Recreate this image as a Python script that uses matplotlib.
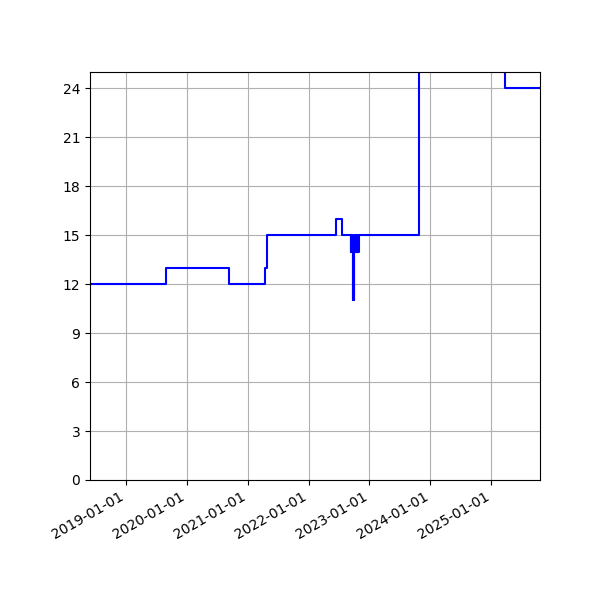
import matplotlib
matplotlib.use('Agg')
import matplotlib.pyplot as plt
import matplotlib.dates as mdates
import pandas as pd

# Step series: value holds from each date until the next one
dates = ['2018-05-30', '2019-08-31', '2020-09-10', '2021-04-16', '2021-04-24',
         '2022-06-17', '2022-07-20',
         '2022-09-10', '2022-09-13', '2022-09-16', '2022-09-19', '2022-09-22',
         '2022-09-25', '2022-09-27', '2022-09-30', '2022-10-02', '2022-10-05',
         '2022-10-08', '2022-10-11', '2022-10-14', '2022-10-17', '2022-10-20',
         '2022-10-23', '2022-10-26', '2022-10-29',
         '2023-10-23', '2025-03-24', '2025-10-20']
values = [12, 13, 12, 13, 15,
          16, 15,
          14, 15, 14, 15, 14,
          11, 14, 11, 14, 15,
          14, 15, 14, 15, 14,
          15, 14, 15,
          30, 24, 24]

x = pd.to_datetime(dates)

fig, ax = plt.subplots(figsize=(6, 6), dpi=100)
ax.plot(x, values, color='blue', linewidth=1.5, drawstyle='steps-post')

ax.set_xlim(x[0], x[-1])
ax.set_ylim(0, 25)
ax.set_yticks(range(0, 25, 3))
ax.xaxis.set_major_locator(mdates.YearLocator())
ax.xaxis.set_major_formatter(mdates.DateFormatter('%Y-%m-%d'))
ax.grid(True)

fig.autofmt_xdate()
fig.subplots_adjust(left=0.15, right=0.9, top=0.88, bottom=0.2)
plt.savefig('out.png', dpi=100)
